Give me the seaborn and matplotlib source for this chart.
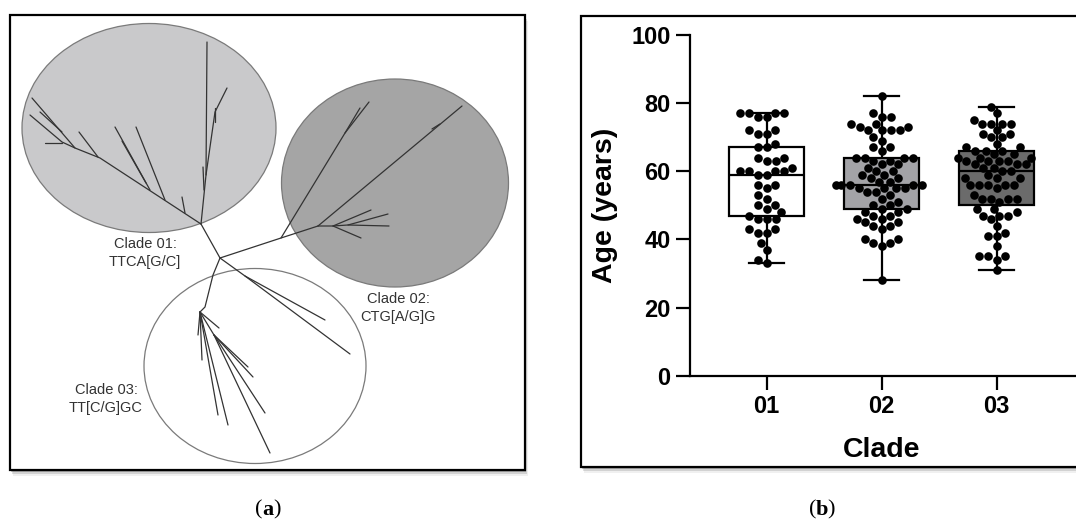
import numpy as np
import pandas as pd
import matplotlib
matplotlib.use("Agg")
import matplotlib.pyplot as plt
from matplotlib.patches import Ellipse, Rectangle
import seaborn as sns

# ---------------- data (panel b) ----------------
clades = ["01", "02", "03"]
ages_01 = [77, 77, 77, 77, 76, 76, 72, 72, 71, 71, 68, 67, 67,
           64, 64, 63, 63, 61, 60, 60, 60, 60, 59, 59, 56, 56, 55,
           53, 52, 50, 50, 49, 48, 47, 46, 46, 46, 43, 43, 42, 42,
           39, 37, 34, 33]
ages_02 = [82, 77, 76, 76, 74, 74, 73, 73, 72, 72, 72, 72, 70, 69,
           67, 67, 66, 64, 64, 64, 64, 63, 63, 62, 62, 61, 60, 60,
           59, 59, 58, 58, 57, 57, 56, 56, 56, 56, 56, 55, 55, 55, 55,
           54, 54, 53, 52, 51, 50, 50, 49, 49, 48, 48, 47, 47, 46, 46,
           45, 45, 44, 44, 43, 40, 40, 39, 39, 38, 28]
ages_03 = [79, 77, 75, 74, 74, 74, 74, 72, 71, 71, 70, 70, 68, 67, 67,
           66, 66, 66, 65, 65, 64, 64, 64, 63, 63, 63, 63, 62, 62, 62,
           61, 61, 60, 60, 59, 58, 58, 58, 56, 56, 56, 56, 56, 55,
           53, 52, 52, 52, 52, 51, 49, 49, 48, 47, 47, 47, 46,
           44, 42, 41, 41, 38, 35, 35, 35, 34, 31]
box_colors = ["#ffffff", "#a3a3a7", "#6b6b6b"]
y_ticks = [0, 20, 40, 60, 80, 100]

# ---------------- data (panel a: unrooted tree sketch, image px) --------
clade_labels = ["Clade 01:\nTTCA[G/C]", "Clade 02:\nCTG[A/G]G", "Clade 03:\nTT[C/G]GC"]
label_xy = [(145, 253), (398, 308), (106, 399)]
ellipse_centers = [(149, 128), (395, 183), (255, 366)]
ellipse_sizes = [(254, 209), (227, 208), (222, 195)]
ellipse_faces = ["#c9c9cb", "#a5a5a5", "#ffffff"]
tree_branches = [
    # clade 01
    [(201, 224), (100, 158), (75, 148), (62, 142), (30, 115)],
    [(75, 148), (32, 98)],
    [(62, 132), (40, 112)],
    [(62, 143), (45, 143)],
    [(98, 157), (79, 132)],
    [(150, 190), (115, 127)],
    [(146, 183), (122, 141)],
    [(165, 200), (136, 127)],
    [(185, 213), (182, 197)],
    [(201, 224), (206, 175), (207, 42)],
    [(206, 175), (215, 112), (227, 88)],
    [(215, 122), (215, 108)],
    [(204, 190), (203, 167)],
    # trunk
    [(201, 224), (220, 258)],
    # clade 02
    [(220, 258), (281, 238), (318, 226)],
    [(281, 238), (345, 133), (360, 108)],
    [(345, 133), (369, 102)],
    [(318, 226), (462, 106)],
    [(440, 124), (432, 129)],
    [(318, 226), (333, 226), (348, 225), (389, 226)],
    [(333, 226), (371, 210)],
    [(348, 225), (388, 214)],
    [(333, 226), (361, 238)],
    [(220, 258), (245, 276), (325, 320)],
    [(245, 276), (350, 354)],
    # clade 03
    [(220, 258), (213, 275), (205, 307), (200, 312)],
    [(200, 312), (202, 360)],
    [(200, 312), (198, 335)],
    [(200, 312), (218, 415)],
    [(200, 312), (228, 425)],
    [(200, 312), (219, 328)],
    [(200, 312), (214, 335), (248, 367)],
    [(214, 335), (253, 377)],
    [(214, 335), (265, 413)],
    [(214, 335), (270, 453)],
]

df = pd.DataFrame({
    "Clade": ["01"] * len(ages_01) + ["02"] * len(ages_02) + ["03"] * len(ages_03),
    "Age": ages_01 + ages_02 + ages_03,
})

plt.rcParams["font.family"] = ["Liberation Sans", "DejaVu Sans"]

W, H = 1076, 530
fig = plt.figure(figsize=(W / 100, H / 100), dpi=100)
fig.patch.set_facecolor("white")

# overlay axes in pixel coordinates
ax0 = fig.add_axes([0, 0, 1, 1])
ax0.set_xlim(0, W)
ax0.set_ylim(H, 0)
ax0.axis("off")


def framed(x0, y0, x1, y1):
    for off, a in [(6, 0.06), (4, 0.12), (2, 0.22)]:
        ax0.add_patch(Rectangle((x0 + off * 0.5, y0 + off), x1 - x0, y1 - y0,
                                facecolor="#000000", edgecolor="none", alpha=a, zorder=1))
    ax0.add_patch(Rectangle((x0, y0), x1 - x0, y1 - y0, facecolor="white",
                            edgecolor="black", linewidth=1.6, zorder=2))


framed(10, 15, 525, 470)
framed(581, 16, 1090, 467)

for (cx, cy), (w, h), fc in zip(ellipse_centers, ellipse_sizes, ellipse_faces):
    ax0.add_patch(Ellipse((cx, cy), w, h, facecolor=fc, edgecolor="#7a7a7a",
                          linewidth=0.9, zorder=3))

for br in tree_branches:
    xs, ys = zip(*br)
    ax0.plot(xs, ys, color="#333333", linewidth=0.9, zorder=4,
             solid_capstyle="round")

for txt, (tx, ty) in zip(clade_labels, label_xy):
    ax0.text(tx, ty, txt, ha="center", va="center", fontsize=10.5,
             color="#333333", linespacing=1.3, zorder=5)

# panel letters
for cx, letter in [(268, "a"), (822, "b")]:
    ax0.text(cx - 5.5, 510, "(", ha="right", va="center", fontsize=16,
             family="Liberation Serif")
    ax0.text(cx, 510, letter, ha="center", va="center", fontsize=16,
             family="Liberation Serif", fontweight="bold")
    ax0.text(cx + 5.5, 510, ")", ha="left", va="center", fontsize=16,
             family="Liberation Serif")

# ---------------- panel b ----------------
ax = fig.add_axes([690 / W, (H - 375.7) / H, (W - 690) / W, 340.7 / H])
ax.set_facecolor("none")

sns.boxplot(data=df, x="Clade", y="Age", hue="Clade", order=clades,
            hue_order=clades, palette=box_colors, legend=False, width=0.65,
            whis=(0, 100), fliersize=0, linecolor="black", linewidth=1.6,
            saturation=1, capwidths=0.3, ax=ax)
sns.swarmplot(data=df, x="Clade", y="Age", order=clades, color="black",
              size=6.2, ax=ax, zorder=5)

ax.set_xlim(-0.667, 2.69)
ax.set_ylim(0, 100)
ax.set_yticks(y_ticks)
ax.spines["top"].set_visible(False)
ax.spines["right"].set_visible(False)
for s in ["left", "bottom"]:
    ax.spines[s].set_linewidth(1.6)
ax.tick_params(axis="both", length=10, width=1.6, labelsize=17, pad=4)
for lab in ax.get_xticklabels() + ax.get_yticklabels():
    lab.set_fontweight("bold")
ax.set_xlabel("Clade", fontsize=20.5, fontweight="bold")
ax.set_ylabel("Age (years)", fontsize=20.5, fontweight="bold")
ax.xaxis.set_label_coords(0.4966, (H - 450 - (H - 375.7)) / 340.7)
ax.xaxis.label.set_va("center")
ax.yaxis.set_label_coords((605 - 690) / 386, 0.5)
ax.yaxis.label.set_va("center")

fig.savefig("out.png", dpi=100, facecolor="white")
